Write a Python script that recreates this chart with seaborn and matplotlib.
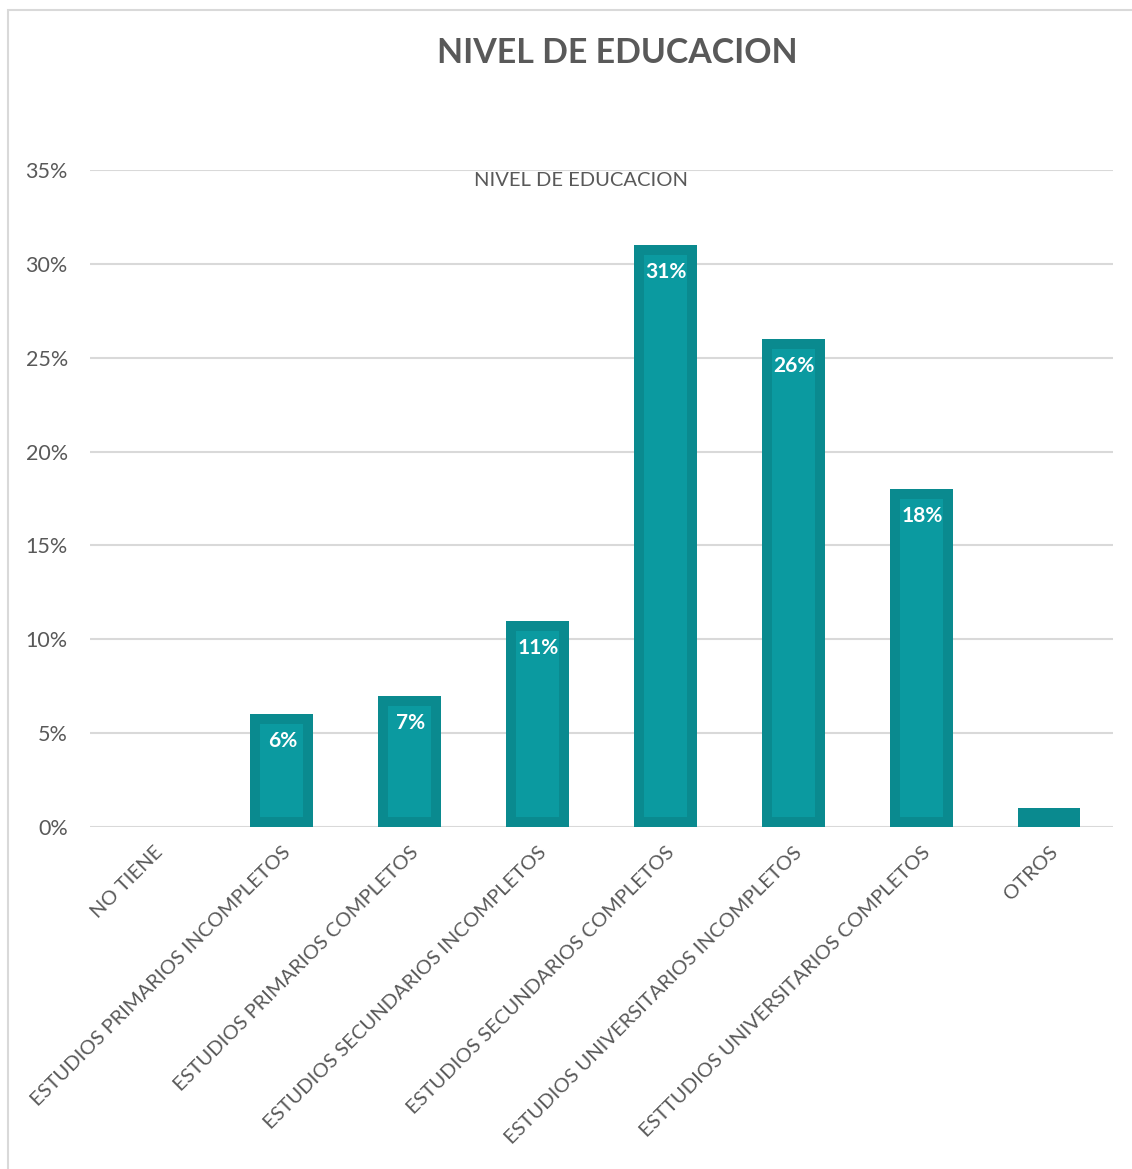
import matplotlib
matplotlib.use("Agg")
import matplotlib.pyplot as plt
from matplotlib.patches import Rectangle
from matplotlib.ticker import FuncFormatter
import pandas as pd
import seaborn as sns

# Education level distribution (percent of respondents)
categories = [
    "NO TIENE",
    "ESTUDIOS PRIMARIOS INCOMPLETOS",
    "ESTUDIOS PRIMARIOS COMPLETOS",
    "ESTUDIOS SECUNDARIOS INCOMPLETOS",
    "ESTUDIOS SECUNDARIOS COMPLETOS",
    "ESTUDIOS UNIVERSITARIOS INCOMPLETOS",
    "ESTTUDIOS UNIVERSITARIOS COMPLETOS",
    "OTROS",
]
percentages = [0, 6, 7, 11, 31, 26, 18, 1]
labelled = [False, True, True, True, True, True, True, False]
y_ticks = [0, 5, 10, 15, 20, 25, 30, 35]

title_text = "NIVEL DE EDUCACION"
series_name = "NIVEL DE EDUCACION"

df = pd.DataFrame({"nivel": categories, "pct": percentages})

sns.set_theme(style="white")
plt.rcParams["font.family"] = ["Lato", "DejaVu Sans"]

TEXT = "#595959"
GRID = "#d9d9d9"
EDGE = "#0a8a8f"
FILL = "#0b9aa0"

W, H, DPI = 1132, 1169, 100
fig = plt.figure(figsize=(W / DPI, H / DPI), dpi=DPI)
fig.patch.set_facecolor("white")

# thin frame around the chart area
fig.add_artist(Rectangle((8 / W, -0.05), 1.2, (H - 10) / H + 0.05,
                         transform=fig.transFigure, fill=False,
                         edgecolor=GRID, linewidth=1.5))

ax = fig.add_axes([90 / W, 342 / H, (1113 - 90) / W, (999 - 342) / H])

sns.barplot(data=df, x="nivel", y="pct", ax=ax, color=FILL,
            width=0.49, saturation=1, zorder=3)

# thick inner border: stroke clipped to each bar's own outline
border_px = 10
for p in ax.patches:
    p.set_facecolor(FILL)
    p.set_edgecolor(EDGE)
    p.set_linewidth(2 * border_px * 72 / DPI)
    p.set_clip_path(p)

# value labels inside the top of each bar
for i, (v, show) in enumerate(zip(percentages, labelled)):
    if show:
        ax.annotate(f"{v}%", xy=(i, v), xytext=(1, -27),
                    textcoords="offset pixels", ha="center", va="center",
                    color="white", fontsize=15, fontweight="bold", zorder=5)

ax.set_ylim(0, 35)
ax.set_xlim(-0.5, len(categories) - 0.5)
ax.set_yticks(y_ticks)
ax.yaxis.set_major_formatter(FuncFormatter(lambda v, _: f"{v:.0f}%"))
ax.grid(axis="y", color=GRID, linewidth=1.5, zorder=0)
ax.set_axisbelow(True)
for s in ax.spines.values():
    s.set_visible(False)
ax.set_xlabel("")
ax.set_ylabel("")
ax.tick_params(axis="y", length=0, pad=16, labelsize=15.5, labelcolor=TEXT)
ax.tick_params(axis="x", length=0, pad=12, labelsize=14.5, labelcolor=TEXT)
for lbl in ax.get_yticklabels():
    lbl.set_horizontalalignment("right")
plt.setp(ax.get_xticklabels(), rotation=45, ha="right", rotation_mode="anchor")

fig.text(617 / W, 1 - 53 / H, title_text, ha="center", va="center",
         fontsize=24.4, fontweight="bold", color=TEXT)
fig.text(581 / W, 1 - 181 / H, series_name, ha="center", va="center",
         fontsize=14.5, color=TEXT)

fig.savefig("out.png", dpi=DPI, facecolor="white")
